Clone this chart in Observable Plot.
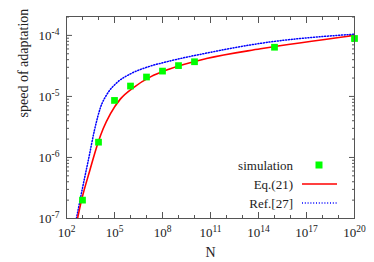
<!DOCTYPE html>
<html><head><meta charset="utf-8">
<script src="https://cdn.jsdelivr.net/npm/d3@7"></script>
<script src="https://cdn.jsdelivr.net/npm/@observablehq/plot@0.6"></script>
<style>
body{margin:0;background:#fff;}
#wrap{position:relative;width:374px;height:262px;font-family:"Liberation Serif","DejaVu Serif",serif;}
#legend{position:absolute;left:0;top:0;}
</style>
</head><body>
<div id="wrap"></div>
<script>
// simulation points
const simN = [1e3, 1e4, 1e5, 1e6, 1e7, 1e8, 1e9, 1e10, 1e15, 1e20];
const simV = [2.0e-7, 1.78e-6, 8.6e-6, 1.48e-5, 2.08e-5, 2.6e-5, 3.2e-5, 3.7e-5, 6.4e-5, 8.9e-5];
// Eq.(21) curve, read as (log10 N, log10 v)
const eqLogN = [2.69, 2.94, 3.46, 3.98, 4.29, 4.75, 5.375, 6.21, 7.25, 8.4, 10.75, 14.125, 20];
const eqLogV = [-7.0, -6.70, -6.21, -5.75, -5.53, -5.28, -5.04, -4.85, -4.68, -4.555, -4.38, -4.22, -4.0];
// Ref.[27] curve
const refLogN = [2.62, 3.0, 3.4, 3.75, 4.125, 4.54, 5.17, 6.0, 7.04, 8.29, 10.75, 14.125, 20];
const refLogV = [-7.0, -6.5, -6.0, -5.55, -5.18, -4.96, -4.77, -4.63, -4.52, -4.43, -4.29, -4.13, -3.98];
// ticks
const xMajorExp = [2, 5, 8, 11, 14, 17, 20];
const xMinorExp = [2,3,4,5,6,7,8,9,10,11,12,13,14,15,16,17,18,19,20];
const yMajorExp = [-7, -6, -5, -4];
const yMinorMult = [2,3,4,5,6,7,8,9];
const legendLabels = ["simulation", "Eq.(21)", "Ref.[27]"];
const xTitle = "N";
const yTitle = "speed of adaptation";

const sim = simN.map((n, i) => ({n, v: simV[i]}));
const eq = eqLogN.map((l, i) => ({n: 10 ** l, v: 10 ** eqLogV[i]}));
const ref = refLogN.map((l, i) => ({n: 10 ** l, v: 10 ** refLogV[i]}));
const xMajor = xMajorExp.map(e => 10 ** e);
const xMinor = xMinorExp.map(e => 10 ** e);
const yMajor = yMajorExp.map(e => 10 ** e);
const yMinor = [];
for (const e of [-7, -6, -5, -4]) for (const m of yMinorMult) { const v = m * 10 ** e; if (v < 2.04e-4) yMinor.push(v); }

const fmt = d => "10^" + Math.round(Math.log10(d));
const frameColor = "#555";
const serif = '"Liberation Serif","DejaVu Serif",serif';
const dotted = "1,1.8";

const chart = Plot.plot({
  width: 374, height: 262,
  marginLeft: 66, marginRight: 20, marginTop: 16, marginBottom: 44,
  style: {fontFamily: serif, fontSize: "13px", color: "#222", background: "#fff"},
  x: {type: "log", domain: [1e2, 1e20]},
  y: {type: "log", domain: [1e-7, 2.04e-4]},
  marks: [
    Plot.axisX({anchor: "bottom", ticks: xMajor, tickSize: 0, tickPadding: 9, tickFormat: fmt, label: null}),
    Plot.axisX({anchor: "bottom", ticks: xMinor, tickSize: -3, tickFormat: () => "", label: null, stroke: frameColor}),
    Plot.axisX({anchor: "bottom", ticks: xMajor, tickSize: -6, tickFormat: () => "", label: null, stroke: frameColor}),
    Plot.axisX({anchor: "top", ticks: xMinor, tickSize: -3, tickFormat: () => "", label: null, stroke: frameColor}),
    Plot.axisX({anchor: "top", ticks: xMajor, tickSize: -6, tickFormat: () => "", label: null, stroke: frameColor}),
    Plot.axisY({anchor: "left", ticks: yMajor, tickSize: 0, tickPadding: 7, tickFormat: fmt, label: null}),
    Plot.axisY({anchor: "left", ticks: yMajor, tickSize: -6, tickFormat: () => "", label: null, stroke: frameColor}),
    Plot.axisY({anchor: "left", ticks: yMinor, tickSize: -3, tickFormat: () => "", label: null, stroke: frameColor}),
    Plot.axisY({anchor: "right", ticks: yMajor, tickSize: -6, tickFormat: () => "", label: null, stroke: frameColor}),
    Plot.axisY({anchor: "right", ticks: yMinor, tickSize: -3, tickFormat: () => "", label: null, stroke: frameColor}),
    Plot.text([xTitle], {frameAnchor: "bottom", dy: 38, fontSize: 14, fontFamily: serif, fill: "#222"}),
    Plot.text([yTitle], {frameAnchor: "left", dx: -43, rotate: -90, fontSize: 14, fontFamily: serif, fill: "#222"}),
    Plot.line(ref, {x: "n", y: "v", stroke: "#0000ff", strokeWidth: 1.5, strokeDasharray: dotted, curve: "monotone-x", clip: true}),
    Plot.line(eq, {x: "n", y: "v", stroke: "#ff0000", strokeWidth: 1.6, curve: "monotone-x", clip: true}),
    Plot.dot(sim, {x: "n", y: "v", symbol: "square", r: 3.8, fill: "#00ff00", stroke: "none"}),
    Plot.frame({stroke: frameColor, strokeWidth: 1})
  ]
});

// superscript exponents in tick labels
d3.select(chart).selectAll("text").each(function() {
  const t = this.textContent;
  const m = /^10\^(-?\d+)$/.exec(t);
  if (m) {
    const sel = d3.select(this);
    sel.text("");
    sel.append("tspan").text("10");
    sel.append("tspan").attr("dy", "-0.5em").attr("font-size", "9.5px").text(m[1]);
  }
});

const wrap = document.getElementById("wrap");
wrap.appendChild(chart);

// legend overlay
const lg = d3.select(wrap).append("svg").attr("id", "legend").attr("width", 374).attr("height", 262)
  .style("font-family", serif).style("font-size", "13px");
const rows = [165, 184, 203];
legendLabels.forEach((lab, i) => {
  lg.append("text").attr("x", 293).attr("y", rows[i]).attr("text-anchor", "end").attr("dominant-baseline", "central").attr("fill", "#222").text(lab);
});
lg.append("rect").attr("x", 315.5).attr("y", rows[0] - 3.5).attr("width", 7).attr("height", 7).attr("fill", "#00ff00");
lg.append("line").attr("x1", 302).attr("x2", 337).attr("y1", rows[1]).attr("y2", rows[1]).attr("stroke", "#ff0000").attr("stroke-width", 1.6);
lg.append("line").attr("x1", 302).attr("x2", 337).attr("y1", rows[2]).attr("y2", rows[2]).attr("stroke", "#0000ff").attr("stroke-width", 1.5).attr("stroke-dasharray", dotted);
</script>
</body></html>
